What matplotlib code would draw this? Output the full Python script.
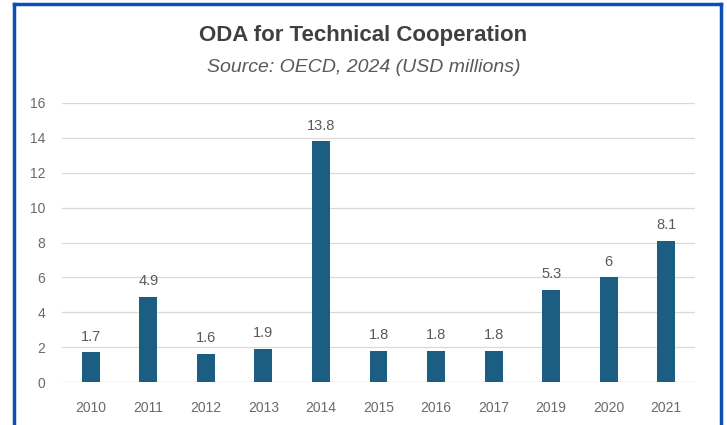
import matplotlib.pyplot as plt
from matplotlib.lines import Line2D

# Data
years = ["2010", "2011", "2012", "2013", "2014", "2015", "2016", "2017", "2019", "2020", "2021"]
values = [1.7, 4.9, 1.6, 1.9, 13.8, 1.8, 1.8, 1.8, 5.3, 6, 8.1]
labels = ["1.7", "4.9", "1.6", "1.9", "13.8", "1.8", "1.8", "1.8", "5.3", "6", "8.1"]
yticks = [0, 2, 4, 6, 8, 10, 12, 14, 16]

plt.rcParams['font.family'] = ['Liberation Sans', 'DejaVu Sans']

fig = plt.figure(figsize=(7.27, 4.25), dpi=100)
ax = fig.add_axes([62 / 727, 43 / 425, 633 / 727, 279 / 425])

x = range(len(years))
bars = ax.bar(x, values, width=0.31, color="#1B5E82", zorder=3)
for b, lab in zip(bars, labels):
    ax.text(b.get_x() + b.get_width() / 2, b.get_height() + 0.5, lab,
            ha="center", va="bottom", fontsize=10.5, color="#595959")

ax.set_xlim(-0.5, len(years) - 0.5)
ax.set_ylim(0, 16)
ax.set_xticks(list(x))
ax.set_xticklabels(years)
ax.set_yticks(yticks)
ax.tick_params(axis="both", length=0, labelsize=10, labelcolor="#6A6A6A")
ax.tick_params(axis="x", pad=14)
ax.tick_params(axis="y", pad=12)
ax.grid(axis="y", color="#D9D9D9", linewidth=0.9, zorder=0)
for s in ax.spines.values():
    s.set_visible(False)
ax.axhline(0, color="#D9D9D9", linewidth=0.9, zorder=2)

fig.text(0.5, 1 - 35 / 425, "ODA for Technical Cooperation", ha="center", va="center",
         fontsize=16, fontweight="bold", color="#404040")
fig.text(0.5, 1 - 68 / 425, "Source: OECD, 2024 (USD millions)", ha="center", va="center",
         fontsize=14, style="italic", color="#595959")

# blue frame around the chart (bottom edge cut off)
border = "#0B4FB3"
fig.add_artist(Line2D([14 / 727, 14 / 727], [0, 1 - 4 / 425], transform=fig.transFigure,
                      color=border, linewidth=2.5))
fig.add_artist(Line2D([14 / 727, 721 / 727], [1 - 4 / 425, 1 - 4 / 425], transform=fig.transFigure,
                      color=border, linewidth=2.5))
fig.add_artist(Line2D([721 / 727, 721 / 727], [0, 1 - 4 / 425], transform=fig.transFigure,
                      color=border, linewidth=2.5))

fig.savefig("out.png", dpi=100)
